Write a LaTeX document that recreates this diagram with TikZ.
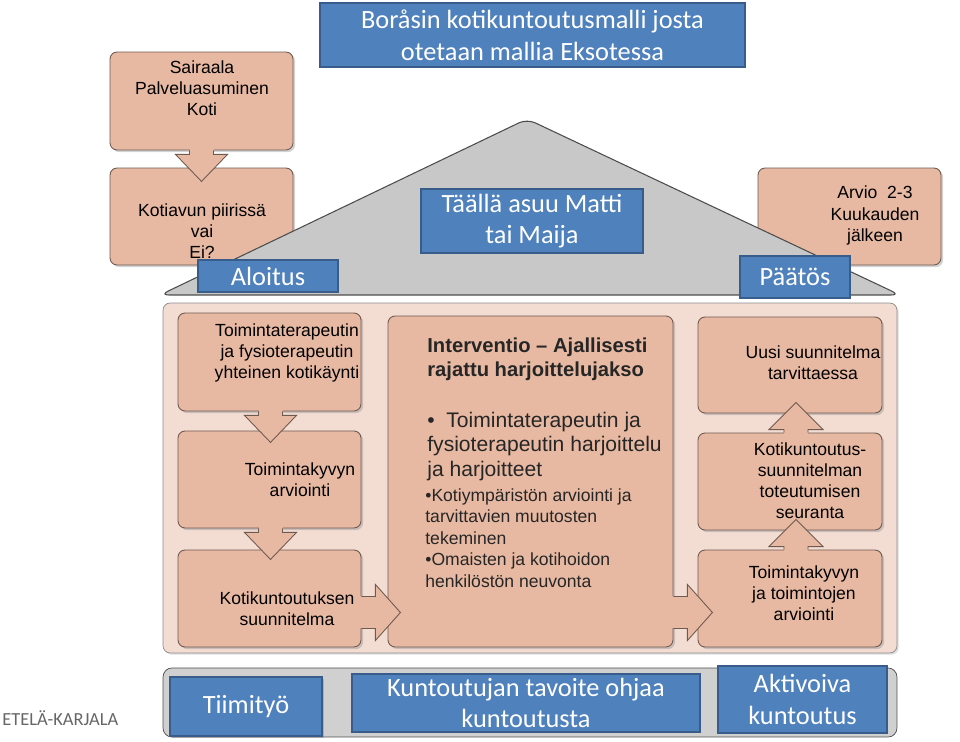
\documentclass[tikz,border=0pt]{standalone}
\usepackage{fontspec}
\setmainfont{Liberation Sans}
\newfontfamily\calib{Carlito}
\usetikzlibrary{calc,shadows}
\definecolor{salmon}{RGB}{232,185,162}
\definecolor{panelbg}{RGB}{243,221,211}
\definecolor{boxline}{RGB}{110,90,80}
\definecolor{myblue}{RGB}{79,129,189}
\definecolor{bluedark}{RGB}{56,93,138}
\definecolor{roofgrey}{RGB}{200,200,200}
\definecolor{bargrey}{RGB}{208,208,208}

\tikzset{
  sbox/.style={draw=boxline,fill=salmon,rounded corners=4pt,line width=0.5pt,
    drop shadow={opacity=0.35,shadow xshift=1.2pt,shadow yshift=-1.2pt}},
  stxt/.style={align=center,inner sep=0,font=\fontsize{10}{12}\selectfont},
  bbox/.style={draw=bluedark,fill=myblue,line width=1.2pt,text=white,align=center,
    inner sep=0,font=\calib\fontsize{15}{18}\selectfont},
  blkarrow/.style={draw=boxline,fill=salmon,line width=0.5pt,line join=miter}
}

% block arrows, sizes in px of the reference
\newcommand{\blkdown}[1]{\fill[salmon] ($(#1)+(-12,-1)$) rectangle ($(#1)+(12,4)$);
  \draw[blkarrow] ($(#1)+(-12,0)$) -- ++(0,4) -- ++(-14,0) -- ++(26,27) -- ++(26,-27) -- ++(-14,0) -- ++(0,-4);}
\newcommand{\blkup}[1]{\fill[salmon] ($(#1)+(-12,1)$) rectangle ($(#1)+(12,-3)$);
  \draw[blkarrow] ($(#1)+(-12,0)$) -- ++(0,-3) -- ++(-15,0) -- ++(27,-27) -- ++(27,27) -- ++(-15,0) -- ++(0,3);}
\newcommand{\blkright}[1]{\fill[salmon] ($(#1)+(-1,-16)$) rectangle ($(#1)+(14,16)$);
  \draw[blkarrow] ($(#1)+(0,-16)$) -- ++(14,0) -- ++(0,-12) -- ++(25,28) -- ++(-25,28) -- ++(0,-12) -- ++(-14,0);}

\begin{document}
\begin{tikzpicture}[x=0.02cm,y=-0.02cm]
\useasboundingbox (0,0) rectangle (960,742);

% upper boxes
\node[sbox,minimum width=36.6mm,minimum height=19.6mm] (sair) at (201.5,101) {};
\node[sbox,minimum width=36.6mm,minimum height=19.4mm] (koti) at (201.5,216.5) {};
\node[sbox,minimum width=36.6mm,minimum height=19.4mm] (arvio) at (849.5,216.5) {};
\node[stxt] (sairT) at (202,88.5) {Sairaala\\Palveluasuminen\\Koti};
\node[stxt] (kotiT) at (202,231) {Kotiavun piiriss\"a\\vai\\Ei?};
\node[stxt] (arvioT) at (875,215.5) {Arvio\ \ 2-3\\Kuukauden\\j\"alkeen};
\coordinate (sairS) at (sair.south);
\blkdown{sairS}

% roof
\coordinate (roofL) at (160,295);
\coordinate (roofT) at (527,119);
\coordinate (roofR) at (900,295);
\draw[fill=roofgrey,draw=black!70,line width=0.6pt,rounded corners=5pt] (roofL) -- (roofT) -- (roofR) -- cycle;

% blue labels
\node[bbox,minimum width=85mm,minimum height=12.8mm] (title) at (532.5,35) {Bor\aa sin kotikuntoutusmalli josta\\otetaan mallia Eksotessa};
\node[bbox,minimum width=44.4mm,minimum height=12.8mm] (taalla) at (532,221) {T\"a\"all\"a asuu Matti\\tai Maija};
\node[bbox,minimum width=28mm,minimum height=6.4mm] (aloitus) at (268,276) {Aloitus};
\node[bbox,minimum width=22mm,minimum height=8.4mm] (paatos) at (795,277) {P\"a\"at\"os};

% body of the house
\node[draw=black!45,fill=panelbg,rounded corners=4pt,minimum width=146.8mm,minimum height=70mm,
  drop shadow={opacity=0.25,shadow xshift=1pt,shadow yshift=-1pt}] (panel) at (530,478) {};

\node[sbox,minimum width=36.6mm,minimum height=19.6mm] (yht) at (269.5,362) {};
\node[sbox,minimum width=36.6mm,minimum height=19.4mm] (tkarv) at (269.5,479.5) {};
\node[sbox,minimum width=36.6mm,minimum height=19.4mm] (suun) at (269.5,598.5) {};
\node[sbox,minimum width=57mm,minimum height=66.2mm] (interv) at (530.5,481.5) {};
\node[sbox,minimum width=36.8mm,minimum height=19.2mm] (uusi) at (790,365) {};
\node[sbox,minimum width=36.8mm,minimum height=19.4mm] (seur) at (790,481.5) {};
\node[sbox,minimum width=36.8mm,minimum height=19.4mm] (tkarv2) at (790,598.5) {};

\node[stxt] (yhtT) at (287,353) {Toimintaterapeutin\\ja fysioterapeutin\\yhteinen kotik\"aynti};
\node[stxt] (tkarvT) at (300,480) {Toimintakyvyn\\arviointi};
\node[stxt] (suunT) at (287,609) {Kotikuntoutuksen\\suunnitelma};
\node[stxt] (uusiT) at (813,363) {Uusi suunnitelma\\tarvittaessa};
\node[stxt] (seurT) at (810,481) {Kotikuntoutus-\\suunnitelman\\toteutumisen\\seuranta};
\node[stxt] (tkarv2T) at (804,593) {Toimintakyvyn\\ja toimintojen\\arviointi};

\node[anchor=west,align=left,inner sep=0,text=black!85,
  font=\bfseries\fontsize{11.5}{13.6}\selectfont] (intervH) at (427,359)
  {Interventio -- Ajallisesti\\rajattu harjoittelujakso};
\node[anchor=west,align=left,inner sep=0,text=black!85,
  font=\fontsize{12}{14}\selectfont] (intervA) at (427,446.5)
  {\textbullet\ \ Toimintaterapeutin ja\\fysioterapeutin harjoittelu\\ja harjoitteet};
\node[anchor=west,align=left,inner sep=0,text=black!85,
  font=\fontsize{10}{12.2}\selectfont] (intervB) at (425,538)
  {\textbullet Kotiymp\"arist\"on arviointi ja\\tarvittavien muutosten\\tekeminen\\\textbullet Omaisten ja kotihoidon\\henkil\"ost\"on neuvonta};

% connectors
\coordinate (yhtS) at ($(yht.south)+(1,0)$);
\coordinate (tkarvS) at ($(tkarv.south)+(1,0)$);
\coordinate (suunE) at ($(suun.east)+(0,14)$);
\coordinate (intervE) at ($(interv.east)+(0,131)$);
\coordinate (tkarv2N) at ($(tkarv2.north)+(6,0)$);
\coordinate (seurN) at ($(seur.north)+(6,0)$);
\blkdown{yhtS}
\blkdown{tkarvS}
\blkright{suunE}
\blkright{intervE}
\blkup{tkarv2N}
\blkup{seurN}

% foundation
\node[draw=black!70,fill=bargrey,rounded corners=5pt,minimum width=146.8mm,minimum height=13.8mm] (found) at (530,702.5) {};
\node[bbox,minimum width=30.4mm,minimum height=11.8mm,
  drop shadow={opacity=0.4,shadow xshift=1pt,shadow yshift=-1pt}] (tiimi) at (246,706.5) {Tiimity\"o};
\node[bbox,minimum width=69.6mm,minimum height=11.6mm] (tavoite) at (526,703) {Kuntoutujan tavoite ohjaa\\kuntoutusta};
\node[bbox,minimum width=33.8mm,minimum height=13.4mm] (aktiv) at (802.5,699.5) {Aktivoiva\\kuntoutus};

% logo text
\node[anchor=west,inner sep=0,text=black!60,font=\calib\fontsize{10.5}{12}\selectfont] (logo) at (2,718) {ETEL\"A-KARJALA};
\end{tikzpicture}
\end{document}
